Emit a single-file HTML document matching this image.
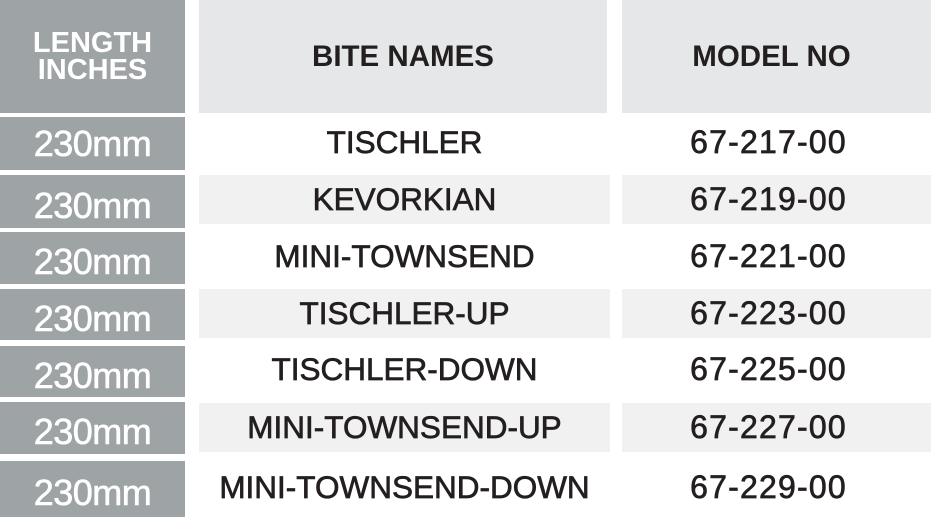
<!DOCTYPE html>
<html><head><style>
body{margin:0;width:931px;height:517px;background:#fff;position:relative;overflow:hidden;font-family:"Liberation Sans",sans-serif;}
div{position:absolute;display:flex;align-items:center;justify-content:center;box-sizing:border-box;white-space:nowrap;}
.g{background:#9ea3a6;color:#fff;left:0;width:185px;font-size:36px;-webkit-text-stroke:0.6px #fff;letter-spacing:-0.5px;}
.h{background:#e6e7e8;color:#231f20;top:0;height:113px;font-size:29.5px;font-weight:bold;}
.l{background:#f1f1f2;}
.t{color:#231f20;font-size:31.5px;-webkit-text-stroke:0.7px #231f20;}
.c1{left:199px;width:411px;}
.c2{left:622px;width:309px;letter-spacing:1.2px;font-size:32px;padding-right:16px;}
</style></head><body>
<div class="g" style="top:0;height:113px;font-size:29px;font-weight:bold;line-height:27px;text-align:center;-webkit-text-stroke:0;letter-spacing:0">LENGTH<br>INCHES</div>
<div class="h" style="left:199px;width:408px;">BITE NAMES</div>
<div class="h" style="left:622px;width:309px;padding-right:10px">MODEL NO</div>

<div class="g" style="top:117px;height:53px;">230mm</div>
<div class="g" style="top:175px;height:53px;padding-top:8px">230mm</div>
<div class="g" style="top:232px;height:52px;padding-top:8px">230mm</div>
<div class="g" style="top:289px;height:51px;padding-top:8px">230mm</div>
<div class="g" style="top:346px;height:51px;padding-top:8px">230mm</div>
<div class="g" style="top:402px;height:52px;padding-top:8px">230mm</div>
<div class="g" style="top:461px;height:56px;padding-top:8px">230mm</div>

<div class="t c1" style="top:117px;height:50px;">TISCHLER</div>
<div class="t c2" style="top:117px;height:50px;">67-217-00</div>
<div class="t c1 l" style="top:175px;height:49px;">KEVORKIAN</div>
<div class="t c2 l" style="top:175px;height:49px;">67-219-00</div>
<div class="t c1" style="top:231px;height:50px;">MINI-TOWNSEND</div>
<div class="t c2" style="top:231px;height:50px;">67-221-00</div>
<div class="t c1 l" style="top:289px;height:49px;">TISCHLER-UP</div>
<div class="t c2 l" style="top:289px;height:49px;">67-223-00</div>
<div class="t c1" style="top:344px;height:50px;">TISCHLER-DOWN</div>
<div class="t c2" style="top:344px;height:50px;">67-225-00</div>
<div class="t c1 l" style="top:403px;height:49px;">MINI-TOWNSEND-UP</div>
<div class="t c2 l" style="top:403px;height:49px;">67-227-00</div>
<div class="t c1" style="top:462px;height:50px;">MINI-TOWNSEND-DOWN</div>
<div class="t c2" style="top:462px;height:50px;">67-229-00</div>
</body></html>
